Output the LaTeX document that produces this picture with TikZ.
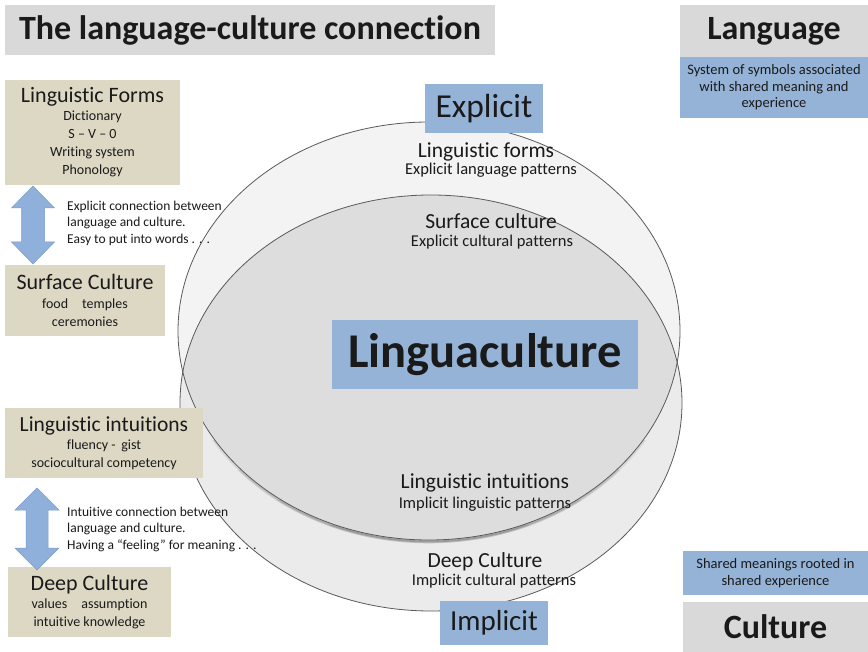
\documentclass[tikz,border=0pt]{standalone}
\usepackage{fontspec}
\setmainfont{Carlito}[Ligatures={TeX,NoCommon}]
\definecolor{tanbg}{HTML}{DDD8C4}
\definecolor{bluebg}{HTML}{95B3D7}
\definecolor{graybg}{HTML}{D9D9D9}
\definecolor{ink}{HTML}{1A1A1A}
\definecolor{upperfill}{HTML}{F3F3F3}
\definecolor{lowerfill}{HTML}{EBEBEB}
\definecolor{overlapfill}{HTML}{DDDDDD}
\definecolor{ringline}{HTML}{5A5A5A}
\definecolor{arrowblue}{HTML}{8EB0DA}
\definecolor{arrowedge}{HTML}{7C9DC8}

\newcommand{\fs}[2]{\fontsize{#1}{#2}\selectfont}

\tikzset{
  box/.style={inner sep=0pt, outer sep=0pt, align=center, text=ink},
  tanbox/.style={box, fill=tanbg},
  bluebox/.style={box, fill=bluebg},
  graybox/.style={box, fill=graybg},
  note/.style={inner sep=0pt, align=left, anchor=west, text=ink, font=\fs{13.5}{16.5}},
  ringtext/.style={inner sep=0pt, anchor=base, text=ink},
  ring/.style={draw=ringline, line width=0.8pt},
  blockarrow/.style={fill=arrowblue, draw=arrowedge, line width=0.5pt},
}

\begin{document}
\begin{tikzpicture}[x=1pt, y=-1pt]
  \useasboundingbox[fill=white] (0,0) rectangle (868,652);

  % --- the two overlapping ellipses ---
  \coordinate (uc) at (429,331);
  \coordinate (lc) at (431,403);
  \coordinate (ucShadow) at (429,332.5);
  \fill[lowerfill] (lc) ellipse [x radius=251pt, y radius=208pt];
  \fill[upperfill] (uc) ellipse [x radius=251pt, y radius=209pt];
  \begin{scope}
    \clip (uc) ellipse [x radius=251pt, y radius=209pt];
    \fill[overlapfill] (lc) ellipse [x radius=251pt, y radius=208pt];
  \end{scope}
  % soft shadow under the lower rim of the upper ellipse, growing towards the bottom
  \foreach \ystart in {440,470,500,525} {
    \begin{scope}[even odd rule]
      \clip (0,\ystart) rectangle (868,652);
      \clip (0,0) rectangle (868,652)
        (uc) ellipse [x radius=251pt, y radius=209pt];
      \draw[black, line width=3.6pt, opacity=0.045]
        (ucShadow) ellipse [x radius=251pt, y radius=209pt];
      \draw[black, line width=1.8pt, opacity=0.05]
        (ucShadow) ellipse [x radius=251pt, y radius=209pt];
    \end{scope}
  }
  \draw[ring] (uc) ellipse [x radius=251pt, y radius=209pt];
  \draw[ring] (lc) ellipse [x radius=251pt, y radius=208pt];

  % --- labels inside the ellipses ---
  \node[ringtext, font=\fs{21.5}{24}] (lfT) at (486,158) {Linguistic forms};
  \node[ringtext, font=\fs{16.5}{18}] (lfS) at (491,175) {Explicit language patterns};
  \node[ringtext, font=\fs{21.5}{24}] (scT) at (491,229) {Surface culture};
  \node[ringtext, font=\fs{16.5}{18}] (scS) at (492,247) {Explicit cultural patterns};
  \node[ringtext, font=\fs{21.5}{24}] (liT) at (485,488) {Linguistic intuitions};
  \node[ringtext, font=\fs{16.5}{18}] (liS) at (485,508) {Implicit linguistic patterns};
  \node[ringtext, font=\fs{21.5}{24}] (dcT) at (485,567) {Deep Culture};
  \node[ringtext, font=\fs{16.5}{18}] (dcS) at (494,585) {Implicit cultural patterns};

  % --- blue labels ---
  \node[bluebox, minimum width=306pt, minimum height=69pt, font=\bfseries\fs{48.5}{50}]
    (lingua) at (485,354.5) {Linguaculture};
  \node[bluebox, minimum width=118pt, minimum height=49pt, font=\fs{33.5}{36}]
    (explicit) at (484,108.5) {Explicit};
  \node[bluebox, minimum width=108pt, minimum height=44pt, font=\fs{29}{32}]
    (implicit) at (494,623) {Implicit};

  % --- heading ---
  \node[graybox, minimum width=490pt, minimum height=50pt, font=\bfseries\fs{34}{36}]
    (title) at (250,30) {The language-culture connection};

  % --- Language / Culture definitions ---
  \node[graybox, minimum width=188pt, minimum height=52pt, font=\bfseries\fs{34}{36}]
    (language) at (774,31) {Language};
  \node[bluebox, minimum width=188pt, minimum height=61pt, font=\fs{14.5}{16.5}]
    (languageDef) at (774,87.5) {System of symbols associated\\with shared meaning and\\experience};
  \node[bluebox, minimum width=185pt, minimum height=44pt, font=\fs{14.5}{17}]
    (cultureDef) at (775.5,573) {Shared meanings rooted in\\shared experience};
  \node[graybox, minimum width=185pt, minimum height=50pt, font=\bfseries\fs{34}{36}]
    (culture) at (775.5,627) {Culture};

  % --- left column ---
  \node[tanbox, minimum width=175pt, minimum height=105pt, font=\fs{14}{18}]
    (forms) at (92.5,132.5)
    {{\fs{22}{18}Linguistic Forms}\\Dictionary\\S -- V -- 0\\Writing system\\Phonology};
  \node[tanbox, minimum width=160pt, minimum height=71pt, font=\fs{14}{18.5}]
    (surface) at (85,300.5)
    {{\fs{22}{18.5}Surface Culture}\\food\quad temples\\ceremonies};
  \node[tanbox, minimum width=198pt, minimum height=70pt, font=\fs{14}{18}]
    (intuitions) at (104,443)
    {{\fs{21.5}{18}Linguistic intuitions}\\fluency -\, gist\\sociocultural competency};
  \node[tanbox, minimum width=163pt, minimum height=70pt, font=\fs{14}{18}]
    (deep) at (89.5,602)
    {{\fs{22}{18}Deep Culture}\\values\quad assumption\\intuitive knowledge};

  % --- two-headed block arrows between the boxes ---
  \draw[blockarrow] (33,186) -- (54.5,208) -- (44.5,208) -- (44.5,242) -- (54.5,242)
    -- (33,264) -- (11.5,242) -- (21.5,242) -- (21.5,208) -- (11.5,208) -- cycle;
  \draw[blockarrow] (37,488) -- (59,510) -- (48,510) -- (48,548) -- (59,548)
    -- (37,570) -- (15,548) -- (26,548) -- (26,510) -- (15,510) -- cycle;

  % --- notes beside the arrows ---
  \node[note] (explicitNote) at (67,223)
    {Explicit connection between\\language and culture.\\Easy to put into words . . .};
  \node[note] (intuitiveNote) at (67,529)
    {Intuitive connection between\\language and culture.\\Having a “feeling” for meaning . . .};
\end{tikzpicture}
\end{document}
